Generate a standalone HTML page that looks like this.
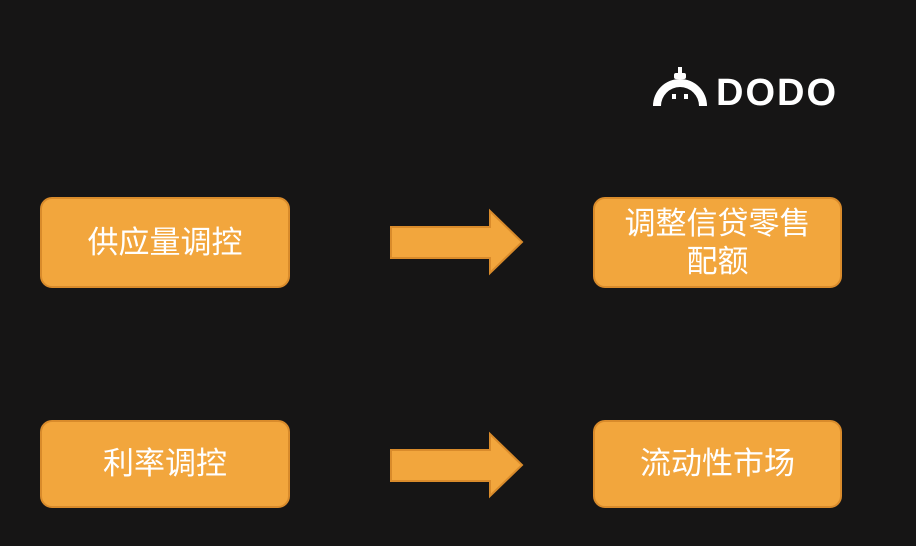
<!DOCTYPE html>
<html><head><meta charset="utf-8"><style>
body{margin:0;width:916px;height:546px;background:#161515;overflow:hidden;position:relative;font-family:"Liberation Sans","Noto Sans CJK SC",sans-serif}
.b{position:absolute;background:#f2a63d;border:2px solid #d98b2b;border-radius:12px;box-sizing:border-box;color:#fff;display:flex;align-items:center;justify-content:center;text-align:center;font-size:31px;line-height:38px}
svg{position:absolute;left:0;top:0}
.logo{position:absolute;left:716px;top:72px;color:#fff;font-weight:bold;font-size:38px;letter-spacing:2px}
</style></head><body>
<svg width="916" height="546">
<g fill="#fff">
<path d="M653 106 A27 27 0 0 1 707 106 L699 106 A19 19 0 0 0 661 106 Z"/>
<rect x="678" y="67" width="4" height="10"/><rect x="674" y="73" width="12" height="6" rx="2"/>
<rect x="672" y="94" width="4" height="5"/><rect x="684" y="94" width="4" height="5"/>
</g>
<g fill="#f2a63d" stroke="#d98b2b" stroke-width="2">
<path d="M391 227 H490 V211 L522 242 L490 273 V258 H391 Z"/>
<path d="M391 450 H490 V434 L522 465 L490 496 V481 H391 Z"/>
</g>
</svg>
<div class="logo">DODO</div>
<div class="b" style="left:40px;top:197px;width:250px;height:91px">供应量调控</div>
<div class="b" style="left:593px;top:197px;width:249px;height:91px">调整信贷零售<br>配额</div>
<div class="b" style="left:40px;top:420px;width:250px;height:88px">利率调控</div>
<div class="b" style="left:593px;top:420px;width:249px;height:88px">流动性市场</div>
</body></html>
